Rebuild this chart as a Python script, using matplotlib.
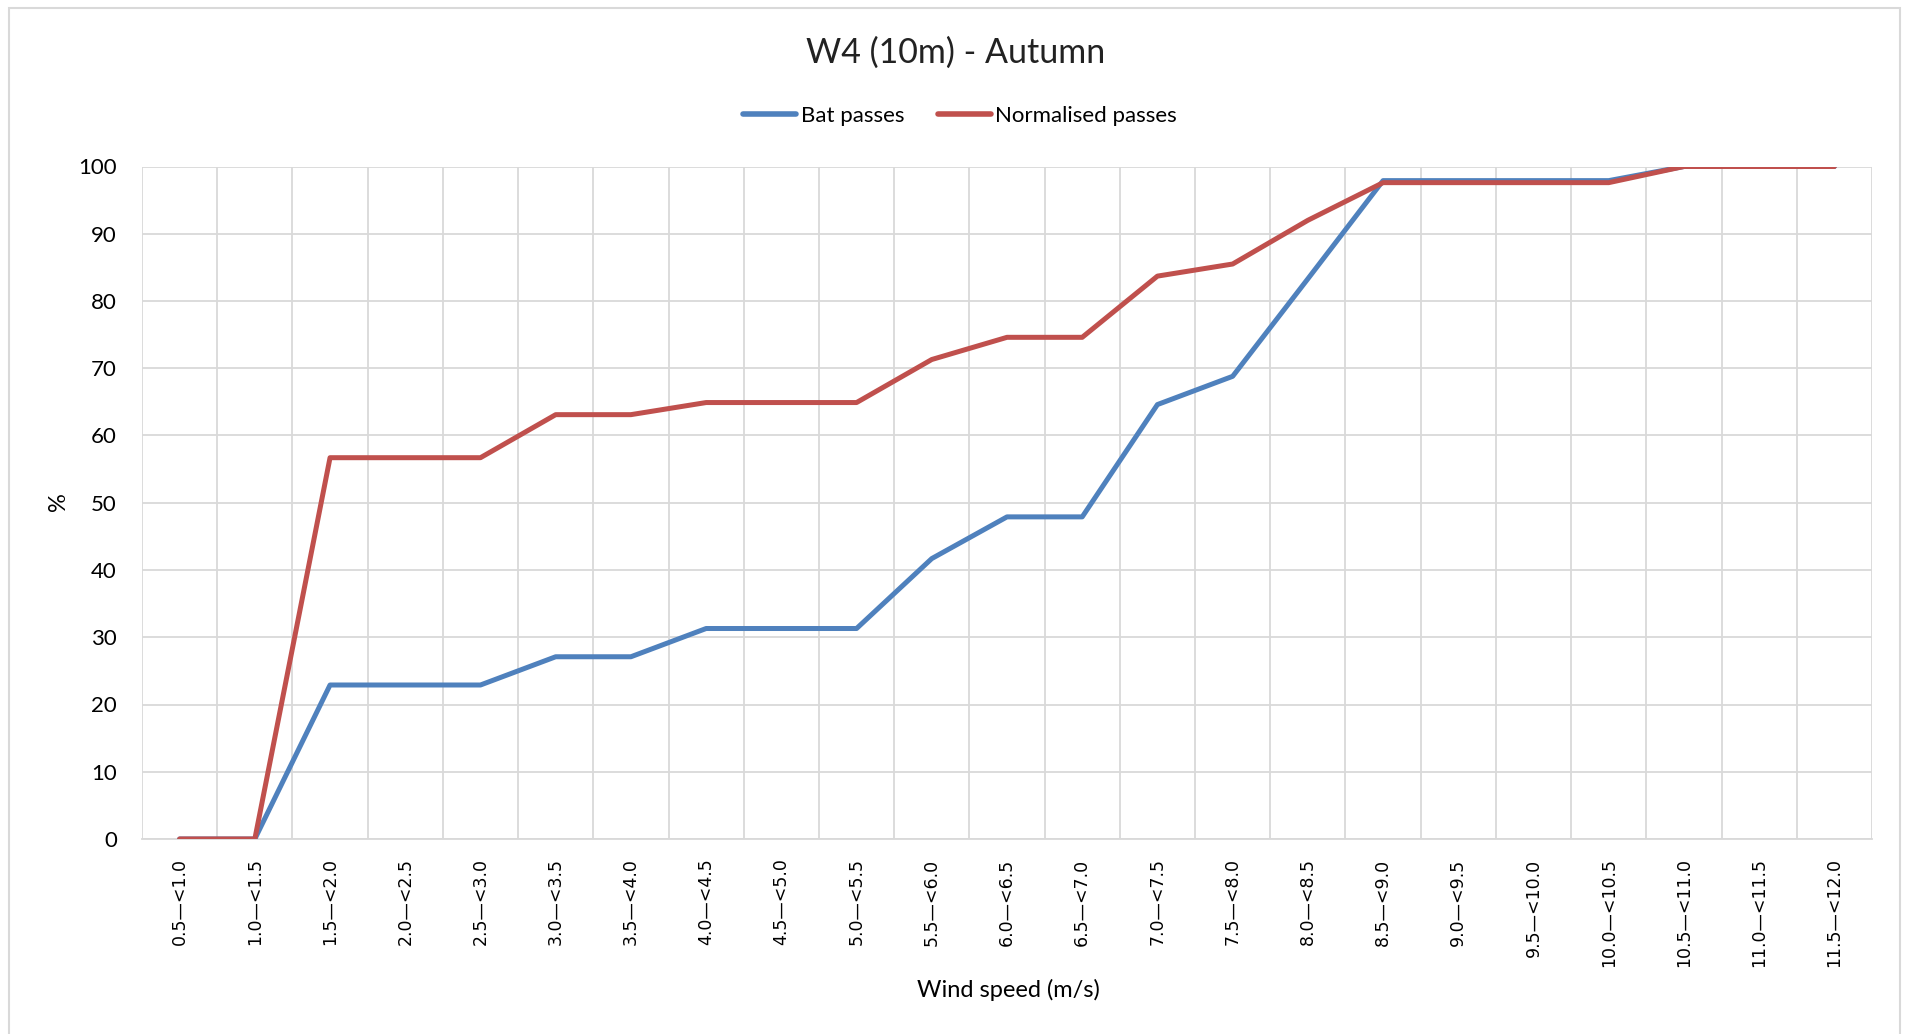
import matplotlib
matplotlib.use("Agg")
import matplotlib.pyplot as plt
from matplotlib.patches import Rectangle
import numpy as np

categories = ["0.5—<1.0", "1.0—<1.5", "1.5—<2.0", "2.0—<2.5", "2.5—<3.0", "3.0—<3.5",
              "3.5—<4.0", "4.0—<4.5", "4.5—<5.0", "5.0—<5.5", "5.5—<6.0", "6.0—<6.5",
              "6.5—<7.0", "7.0—<7.5", "7.5—<8.0", "8.0—<8.5", "8.5—<9.0", "9.0—<9.5",
              "9.5—<10.0", "10.0—<10.5", "10.5—<11.0", "11.0—<11.5", "11.5—<12.0"]
bat_passes = [0, 0, 22.9, 22.9, 22.9, 27.1, 27.1, 31.3, 31.3, 31.3, 41.7, 47.9,
              47.9, 64.6, 68.8, 83.3, 97.9, 97.9, 97.9, 97.9, 100, 100, 100]
normalised_passes = [0, 0, 56.7, 56.7, 56.7, 63.1, 63.1, 64.9, 64.9, 64.9, 71.3, 74.6,
                     74.6, 83.7, 85.5, 92.0, 97.6, 97.6, 97.6, 97.6, 100, 100, 100]
yticks = list(range(0, 101, 10))

W, H = 1906, 1034
fig = plt.figure(figsize=(W / 100, H / 100), dpi=100)
font = "Lato"

# outer chart border
fig.patches.append(Rectangle((9 / W, -0.01), (1900 - 9) / W, 1 - 8 / H + 0.01,
                             transform=fig.transFigure, fill=False,
                             edgecolor="#d9d9d9", linewidth=1.5))

ax = fig.add_axes([142 / W, 1 - 839 / H, (1872 - 142) / W, (839 - 166.5) / H])
x = np.arange(len(categories))
ax.plot(x, bat_passes, color="#4f81bd", linewidth=3.6, label="Bat passes",
        solid_capstyle="round", solid_joinstyle="round", zorder=3)
ax.plot(x, normalised_passes, color="#c0504d", linewidth=3.6, label="Normalised passes",
        solid_capstyle="round", solid_joinstyle="round", zorder=4)

ax.set_xlim(-0.5, len(categories) - 0.5)
ax.set_ylim(0, 100)
ax.set_yticks(yticks)
ax.set_yticklabels([str(v) for v in yticks], fontfamily=font, fontsize=16)
ax.set_xticks(x)
ax.set_xticklabels(categories, rotation=90, fontfamily="DejaVu Sans", fontsize=12.5)
ax.set_xticks(np.arange(-0.5, len(categories), 1), minor=True)
ax.tick_params(axis="both", which="both", length=0)
ax.tick_params(axis="y", pad=18)
ax.tick_params(axis="x", pad=14)
ax.grid(True, which="minor", axis="x", color="#d9d9d9", linewidth=1.3)
ax.grid(True, which="major", axis="y", color="#d9d9d9", linewidth=1.3)
ax.grid(False, which="major", axis="x")
for s in ["top", "right", "left"]:
    ax.spines[s].set_visible(False)
ax.spines["bottom"].set_color("#d9d9d9")
ax.spines["bottom"].set_linewidth(1.3)
ax.set_axisbelow(True)

fig.text(956 / W, 1 - 53 / H, "W4 (10m) - Autumn", ha="center", va="center",
         fontfamily=font, fontsize=24.5, color="#222222")
fig.text(1008 / W, 1 - 990 / H, "Wind speed (m/s)", ha="center", va="center",
         fontfamily=font, fontsize=17)
fig.text(58 / W, 1 - 502 / H, "%", ha="center", va="center", rotation=90,
         fontfamily=font, fontsize=17)

leg = fig.legend(loc="center", bbox_to_anchor=(960 / W, 1 - 116 / H), ncol=2,
                 frameon=False, prop={"family": font, "size": 16},
                 handlelength=2.4, handletextpad=0.2, columnspacing=1.5)
for line in leg.get_lines():
    line.set_linewidth(4)

fig.savefig("out.png", dpi=100, facecolor="white")
